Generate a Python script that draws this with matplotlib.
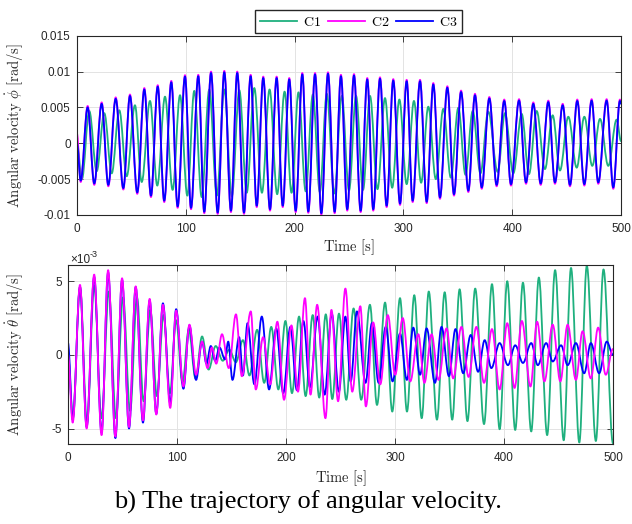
import numpy as np
import matplotlib.pyplot as plt
from matplotlib.path import Path
from matplotlib.patches import PathPatch
from matplotlib.lines import Line2D

plt.rcParams['mathtext.fontset'] = 'cm'
plt.rcParams['axes.unicode_minus'] = False
plt.rcParams['font.family'] = 'Liberation Sans'

# Extremos (picos e vales) das trajetórias, valores em 10^-3 rad/s
# --- velocidade angular phi (painel de cima) ---
t_phi_c1 = [0, 4.5, 11.3, 18.1, 25.1, 31.9, 38.9, 45.7, 53.3, 59.5, 67.1, 73.8, 80.9, 87.9, 94.7,
            101.4, 107.8, 114.6, 121.6, 128.5, 135.4, 142.3, 149.2, 156.0, 163.0, 170.0, 177.0,
            184.0, 190.8, 197.2, 203.6, 210.2, 216.8, 223.2, 229.6, 236.5, 243.4, 250.0, 256.5,
            262.9, 269.3, 276.2, 283.1, 289.7, 296.3, 303.0, 309.7, 316.3, 322.9, 329.8, 336.7,
            343.6, 350.5, 357.1, 363.7, 370.8, 378.0, 386.7, 393.3, 401.0, 408.7, 415.4, 422.5,
            430.1, 437.2, 443.9, 451.6, 459.3, 466.3, 473.6, 480.7, 488.3, 496.0, 500]
phi_c1 = [0, -5.0, 4.5, -3.9, 4.2, -4.2, 4.6, -4.6, 5.3, -5.4, 5.9, -5.9, 6.5, -6.5, 6.7, -7.3,
          7.3, -7.5, 7.5, -7.3, 7.5, -7.4, 7.4, -6.9, 7.7, -6.9, 7.5, -7.1, 7.2, -6.9, 7.1, -6.7,
          6.8, -6.8, 6.9, -7.0, 6.6, -6.6, 6.6, -6.5, 6.6, -6.4, 6.3, -6.2, 6.1, -5.7, 5.9, -5.5,
          5.1, -5.0, 4.8, -4.8, 4.95, -4.4, 4.5, -4.2, 4.4, -4.0, 4.2, -4.2, 4.1, -4.3, 4.5, -3.6,
          3.9, -3.8, 3.7, -3.4, 3.7, -3.15, 3.4, -3.15, 3.3, 0.3]

t_phi_c23 = [0, 3.4, 9.8, 15.9, 22.7, 28.8, 35.6, 42.6, 48.7, 55.4, 61.9, 68.0, 74.2, 80.2, 86.7,
             92.5, 99.3, 104.8, 111.5, 117.0, 123.2, 129.3, 135.4, 141.5, 147.3, 153.5, 159.6,
             165.2, 171.2, 177.4, 183.5, 189.1, 195.1, 201.0, 207.1, 212.6, 218.8, 224.6, 230.7,
             236.8, 242.6, 248.4, 254.6, 260.7, 266.8, 272.3, 278.5, 284.6, 290.7, 296.9, 303.0,
             308.5, 315.3, 321.4, 327.5, 333.6, 340.4, 346.5, 353.0, 359.7, 365.8, 372.0, 379.0,
             385.7, 392.7, 398.9, 406.3, 412.7, 419.4, 426.2, 433.2, 439.3, 446.4, 453.1, 459.8,
             466.3, 473.0, 479.1, 486.8, 492.9, 499.0, 500]
phi_c2 = [1.3, -5.4, 5.2, -5.8, 5.7, -6.0, 6.4, -6.45, 6.8, -7.05, 7.7, -7.5, 8.1, -8.2, 8.7, -9.0,
          9.5, -9.2, 9.55, -9.75, 10.0, -9.85, 10.1, -9.6, 10.0, -9.85, 9.55, -8.9, 9.3, -9.4, 9.3,
          -8.9, 9.1, -9.6, 9.8, -9.7, 9.8, -9.95, 9.9, -9.75, 9.55, -9.4, 9.65, -9.6, 9.1, -9.4,
          9.2, -8.9, 8.95, -8.6, 8.85, -8.2, 8.85, -8.35, 8.4, -7.75, 7.95, -7.3, 7.35, -6.8, 6.9,
          -6.35, 6.45, -6.0, 6.1, -5.9, 6.15, -5.65, 5.7, -5.8, 5.95, -5.65, 5.5, -6.0, 6.1, -5.9,
          6.15, -5.65, 6.15, -6.35, 6.1, 5.6]
phi_c3 = [0, -5.2, 5.0, -5.6, 5.5, -5.8, 6.2, -6.25, 6.6, -6.85, 7.5, -7.3, 7.9, -8.0, 8.5, -8.8,
          9.3, -9.0, 9.35, -9.55, 9.8, -9.65, 9.9, -9.4, 9.8, -9.65, 9.35, -8.7, 9.1, -9.2, 9.1,
          -8.7, 8.9, -9.4, 9.6, -9.5, 9.6, -9.75, 9.7, -9.55, 9.35, -9.2, 9.45, -9.4, 8.9, -9.2,
          9.0, -8.7, 8.75, -8.4, 8.65, -8.0, 8.65, -8.15, 8.2, -7.55, 7.75, -7.1, 7.15, -6.6, 6.7,
          -6.15, 6.25, -5.8, 5.9, -5.7, 5.95, -5.45, 5.5, -5.6, 5.75, -5.45, 5.3, -5.8, 5.9, -5.7,
          5.95, -5.45, 5.95, -6.15, 5.9, 5.5]

# --- velocidade angular theta (painel de baixo) ---
t_th_c1 = [0, 4.5, 11.0, 17.5, 24.0, 30.7, 37.5, 44.0, 50.5, 57.0, 63.3, 69.4, 75.5, 81.6, 87.7,
           93.5, 99.2, 105.0, 110.8, 117.0, 123.0, 129.0, 135.5, 142.0, 148.0, 154.0, 160.5,
           166.5, 173.5, 180.0, 186.5, 193.0, 199.5, 205.5, 212.0, 218.0, 224.5, 230.5, 236.5,
           242.5, 248.6, 255.3, 262.0, 269.0, 277.0, 283.5, 290.9, 297.5, 304.6, 311.0, 317.7,
           324.5, 331.0, 338.5, 345.6, 352.5, 359.3, 366.5, 373.6, 381.7, 389.0, 396.0, 403.0,
           410.3, 417.4, 425.0, 432.0, 439.6, 446.9, 454.8, 461.5, 469.1, 476.0, 484.3, 491.3, 500]
th_c1 = [0, -4.2, 4.6, -4.6, 4.7, -4.3, 4.3, -4.3, 3.9, -3.8, 3.9, -3.15, 3.05, -2.8, 2.7, -2.6,
         2.35, -1.9, 1.7, -1.6, 1.25, -1.0, 0.6, -0.4, 0.35, -0.5, 1.0, -1.4, 1.7, -1.9, 1.9,
         -2.35, 2.3, -2.6, 2.6, -2.8, 2.7, -2.9, 2.75, -3.0, 2.8, -3.05, 3.15, -3.05, 3.4, -3.4,
         3.55, -3.85, 3.85, -3.85, 4.05, -4.3, 4.3, -4.4, 4.25, -4.4, 4.45, -4.5, 4.5, -4.7, 4.8,
         -5.05, 5.0, -5.1, 4.9, -5.2, 5.25, -5.45, 5.75, -5.8, 5.9, -5.95, 6.05, -5.85, 5.8, -6.0]

t_th_c2 = [0, 4.3, 11.0, 17.1, 24.0, 30.8, 36.8, 43.5, 49.6, 56.0, 62.1, 68.8, 74.9, 81.0, 87.1,
           93.8, 99.2, 105.9, 111.4, 117.5, 123.0, 128.0, 132.0, 136.0, 141.3, 147.5, 154.1,
           159.5, 167.7, 172.3, 179.0, 185.5, 192.1, 198.2, 205.0, 211.0, 217.4, 222.5, 228.6,
           236.2, 241.7, 247.8, 254.5, 260.8, 268.2, 273.3, 280.0, 286.5, 293.4, 300.2, 307.1,
           314.0, 321.4, 327.0, 333.6, 340.0, 347.3, 353.4, 361.0, 367.5, 374.7, 381.7, 389.0,
           396.0, 403.0, 409.7, 416.4, 424.3, 430.4, 437.1, 444.7, 451.7, 458.4, 466.0, 472.1,
           479.7, 486.4, 493.4, 500]
th_c2 = [0, -4.6, 4.75, -5.0, 5.45, -5.45, 5.75, -5.55, 5.2, -4.9, 4.65, -4.45, 3.8, -4.05, 3.4,
         -3.6, 3.0, -2.15, 2.05, -1.35, 0.9, -0.9, 0.5, -0.6, 1.4, -0.9, 2.75, -1.45, 2.95, -2.35,
         1.2, -2.0, 2.25, -3.05, 2.0, -2.5, 3.85, -2.7, 3.4, -4.3, 3.05, -3.15, 4.5, -2.5, 3.3,
         -3.5, 2.2, -2.0, 2.7, -1.35, 2.5, -1.8, 1.4, -1.9, 1.4, -1.7, 1.8, -1.6, 1.9, -1.5, 1.9,
         -1.9, 1.75, -2.35, 2.15, -2.25, 2.3, -2.15, 2.25, -1.8, 2.05, -1.8, 2.05, -1.7, 1.6,
         -1.6, 1.85, -1.35, 0.4]

t_th_c3 = [0, 4.3, 11.0, 17.1, 24.0, 30.8, 36.8, 43.5, 49.6, 56.0, 62.1, 68.8, 74.9, 81.0, 87.1,
           93.8, 99.2, 105.9, 111.4, 117.5, 123.0, 127.0, 131.0, 135.0, 139.0, 144.0, 147.0,
           150.9, 157.0, 160.5, 164.7, 171.0, 177.8, 184.5, 191.0, 197.5, 204.0, 210.0, 216.0,
           222.0, 229.0, 235.5, 242.0, 248.5, 254.5, 259.4, 265.1, 273.0, 278.8, 285.0, 291.5,
           297.8, 304.6, 310.9, 316.8, 323.0, 329.0, 336.7, 342.7, 349.5, 355.5, 362.6, 369.5,
           376.3, 382.3, 388.4, 396.0, 403.6, 410.3, 417.4, 425.0, 431.0, 438.7, 444.7, 452.4,
           458.4, 466.0, 473.6, 479.7, 487.3, 494.3, 500]
th_c3 = [0.8, -4.4, 4.6, -4.9, 5.3, -5.3, 5.6, -5.65, 5.1, -5.0, 4.6, -4.6, 3.7, -4.0, 3.5, -3.3,
         3.1, -2.3, 2.0, -1.7, 0.9, -0.6, 0.6, -0.4, 0.5, -0.3, 0.9, -1.7, 1.2, -1.4, 2.15, -2.0,
         2.6, -2.35, 1.8, -2.6, 1.9, -2.4, 2.3, -2.2, 2.6, -2.7, 2.8, -2.5, 2.6, -1.8, 2.95, -1.9,
         2.15, -1.9, 1.9, -1.8, 1.45, -1.7, 1.85, -1.35, 1.8, -1.9, 1.9, -1.45, 1.75, -1.25, 1.35,
         -1.15, 1.0, -0.9, 0.8, -0.7, 0.65, -0.55, 0.8, -0.7, 0.8, -0.45, 0.65, -0.7, 0.8, -1.25,
         0.8, -1.25, 0.9, 0.0]

rotulos = ['C1', 'C2', 'C3']
cores = ['#1fb07e', '#ff00ff', '#0000ff']
x_ticks = [0, 100, 200, 300, 400, 500]
phi_ticks = [-0.01, -0.005, 0, 0.005, 0.01, 0.015]
phi_ticklabels = ['-0.01', '-0.005', '0', '0.005', '0.01', '0.015']
th_ticks = [-5, 0, 5]

cinza = '#262626'
lw = 1.3


def curva(ax, t, v, cor, z, escala=1.0):
    # liga os extremos com trechos cubicos de tangente horizontal (forma senoidal)
    t = np.asarray(t, float)
    v = np.asarray(v, float) * escala
    verts = [(t[0], v[0])]
    codes = [Path.MOVETO]
    for i in range(len(t) - 1):
        d = (t[i + 1] - t[i]) * 0.364
        verts += [(t[i] + d, v[i]), (t[i + 1] - d, v[i + 1]), (t[i + 1], v[i + 1])]
        codes += [Path.CURVE4] * 3
    ax.add_patch(PathPatch(Path(verts, codes), fill=False, edgecolor=cor, lw=lw,
                           zorder=z, capstyle='round', joinstyle='round'))


def estilo(ax):
    ax.grid(True, color='#e3e3e3', linewidth=0.7)
    ax.set_axisbelow(True)
    ax.tick_params(direction='in', top=True, right=True, length=4, width=0.6,
                   labelsize=8.5, colors=cinza)
    ax.tick_params(axis='x', pad=5.5)
    ax.tick_params(axis='y', pad=4.5)
    for s in ax.spines.values():
        s.set_color(cinza)
        s.set_linewidth(0.8)
        s.set_zorder(5)
    ax.set_xlim(0, 500)
    ax.set_xticks(x_ticks)
    ax.set_xticklabels([str(v) for v in x_ticks])


fig = plt.figure(figsize=(6.32, 5.24), dpi=100)
ax1 = fig.add_axes([0.1218, 0.5897, 0.8608, 0.3422])
ax2 = fig.add_axes([0.1076, 0.1527, 0.8623, 0.3416])

# painel de cima: phi
curva(ax1, t_phi_c1, phi_c1, cores[0], 2, 1e-3)
curva(ax1, t_phi_c23, phi_c2, cores[1], 3, 1e-3)
curva(ax1, t_phi_c23, phi_c3, cores[2], 4, 1e-3)
estilo(ax1)
ax1.set_ylim(-0.01, 0.015)
ax1.set_yticks(phi_ticks)
ax1.set_yticklabels(phi_ticklabels)
ax1.set_ylabel(r'$\mathrm{Angular\ velocity}\ \dot{\phi}\ \mathrm{[rad/s]}$', fontsize=10.5, color=cinza)
ax1.yaxis.set_label_coords(-0.093, 0.5)
ax1.set_xlabel(r'$\mathrm{Time\ [s]}$', fontsize=10.5, color=cinza)
ax1.xaxis.set_label_coords(0.5, -0.125)

# painel de baixo: theta (em 10^-3)
curva(ax2, t_th_c1, th_c1, cores[0], 2)
curva(ax2, t_th_c3, th_c3, cores[2], 3)
curva(ax2, t_th_c2, th_c2, cores[1], 4)
estilo(ax2)
ax2.set_ylim(-6.05, 6.1)
ax2.set_yticks(th_ticks)
ax2.set_yticklabels([str(v) for v in th_ticks])
ax2.set_ylabel(r'$\mathrm{Angular\ velocity}\ \dot{\theta}\ \mathrm{[rad/s]}$', fontsize=10.5, color=cinza)
ax2.yaxis.set_label_coords(-0.077, 0.5)
ax2.set_xlabel(r'$\mathrm{Time\ [s]}$', fontsize=10.5, color=cinza)
ax2.xaxis.set_label_coords(0.5, -0.135)

# multiplicador do eixo y
fig.text(70 / 632, 1 - 263 / 524, '\u00d710', fontsize=8.5, color=cinza, va='baseline')
fig.text(90 / 632, 1 - 257 / 524, '-3', fontsize=6.5, color=cinza, va='baseline')

handles = [Line2D([], [], color=c, lw=lw) for c in cores]
fig.legend(handles, [r'$\mathrm{%s}$' % r for r in rotulos], loc='center',
           bbox_to_anchor=(358.5 / 632, 1 - 21.5 / 524), ncol=3, fontsize=10,
           frameon=True, fancybox=False, edgecolor=cinza, framealpha=1,
           handlelength=2.7, handletextpad=0.4, columnspacing=0.5, borderpad=0.3)

fig.text(0.488, 1 - 502 / 524, 'b) The trajectory of angular velocity.',
         fontsize=19, family='Liberation Serif', ha='center', va='center')

fig.savefig('out.png', dpi=100)
